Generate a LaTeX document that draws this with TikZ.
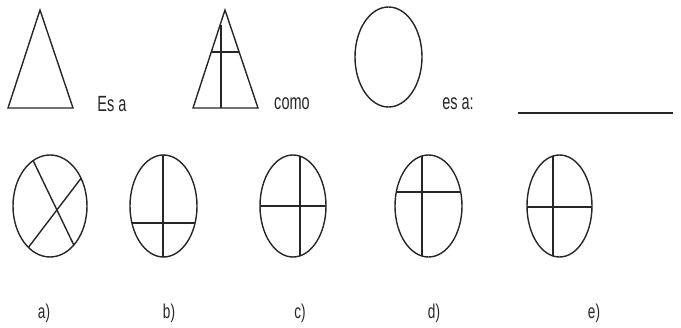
\documentclass[tikz,border=0pt]{standalone}
\usepackage{fontspec}
\setmainfont{Liberation Sans}
\begin{document}
\begin{tikzpicture}[x=1pt,y=-1pt,
  fig/.style={line width=1.4pt,draw=black!85},
  word/.style={font=\fontsize{22}{22}\selectfont,inner sep=0pt,text=black!85},
  lab/.style={font=\fontsize{20}{20}\selectfont,inner sep=0pt,text=black!85}]
\useasboundingbox (0,0) rectangle (681,328);
% top row
\draw[fig] (40,10) -- (73,108) -- (8,108) -- cycle;
\node[word] (t1) at (112,104) {\scalebox{0.66}[1]{Es a}};
\draw[fig] (225,10) -- (258,108) -- (193,108) -- cycle;
\draw[fig] (221,25) -- (221,108);
\draw[fig] (211.3,52) -- (238.7,52);
\node[word] (t2) at (292,104) {\scalebox{0.66}[1]{como}};
\draw[fig] (388.5,57) ellipse [x radius=33.5, y radius=50];
\node[word] (t3) at (458,104) {\scalebox{0.66}[1]{es a:}};
\draw[line width=1.4pt,black!85] (518,113) -- (673,113);
% bottom row
% a
\begin{scope}
\clip (50,206) ellipse [x radius=37, y radius=51];
\draw[fig] (28,150) -- (82,262);
\draw[fig] (95,160) -- (15,265);
\end{scope}
\draw[fig] (50,206) ellipse [x radius=37, y radius=51];
% b
\begin{scope}
\clip (163.5,206) ellipse [x radius=33.5, y radius=51];
\draw[fig] (163,150) -- (163,260);
\draw[fig] (120,223) -- (210,223);
\end{scope}
\draw[fig] (163.5,206) ellipse [x radius=33.5, y radius=51];
% c
\begin{scope}
\clip (293,206) ellipse [x radius=33, y radius=51];
\draw[fig] (300,150) -- (300,260);
\draw[fig] (250,206) -- (340,206);
\end{scope}
\draw[fig] (293,206) ellipse [x radius=33, y radius=51];
% d
\begin{scope}
\clip (428.5,206) ellipse [x radius=33.5, y radius=51];
\draw[fig] (422,150) -- (422,260);
\draw[fig] (380,192) -- (470,192);
\end{scope}
\draw[fig] (428.5,206) ellipse [x radius=33.5, y radius=51];
% e
\begin{scope}
\clip (559.5,206) ellipse [x radius=32.5, y radius=51];
\draw[fig] (553,150) -- (553,260);
\draw[fig] (515,207) -- (605,207);
\end{scope}
\draw[fig] (559.5,206) ellipse [x radius=32.5, y radius=51];
% labels
\node[lab] (la) at (44,313) {\scalebox{0.68}[1]{a)}};
\node[lab] (lb) at (169,313) {\scalebox{0.68}[1]{b)}};
\node[lab] (lc) at (300,313) {\scalebox{0.68}[1]{c)}};
\node[lab] (ld) at (434,313) {\scalebox{0.68}[1]{d)}};
\node[lab] (le) at (594,313) {\scalebox{0.68}[1]{e)}};
\end{tikzpicture}
\end{document}
